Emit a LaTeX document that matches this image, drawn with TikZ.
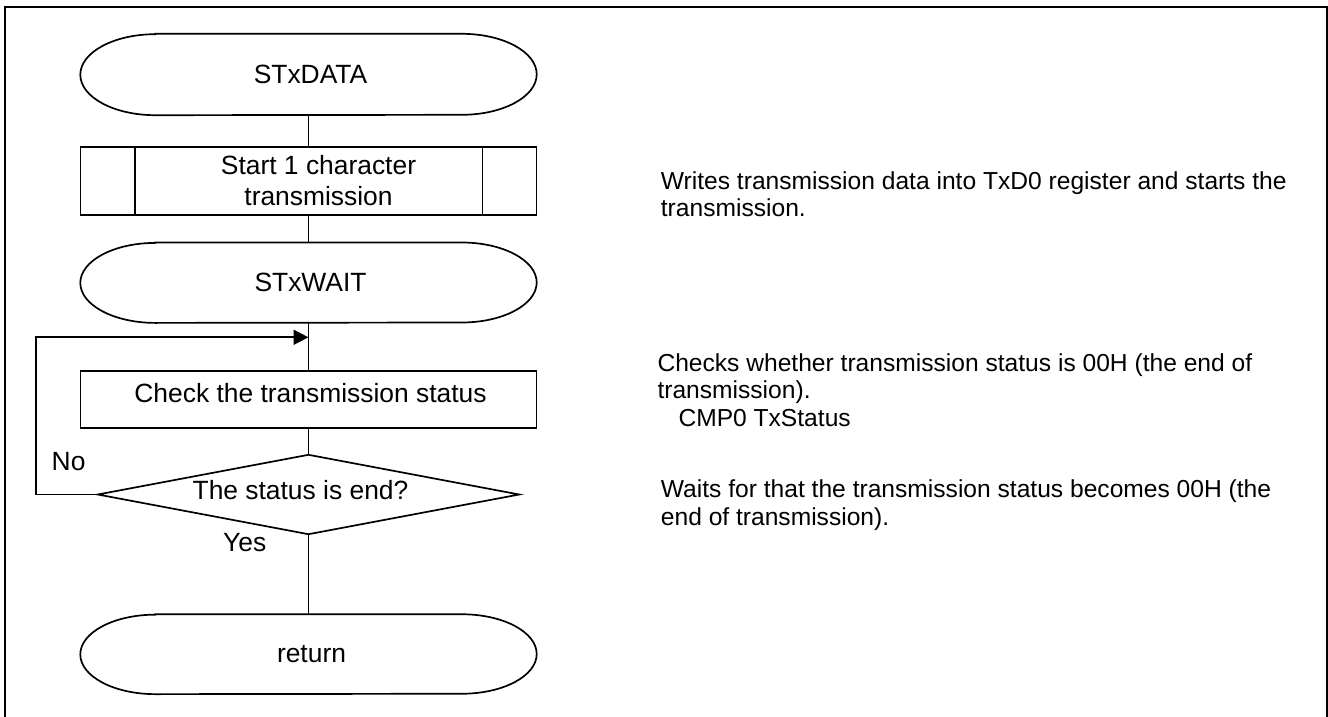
\documentclass[tikz,border=0pt]{standalone}
\usepackage{fontspec}
\setmainfont{Liberation Sans}
\usetikzlibrary{arrows.meta}
\newcommand\fcf{\fontsize{26.4}{31}\selectfont}
\newcommand\fnote{\fontsize{24.6}{27.5}\selectfont}
\newcommand\termpath[2]{%
  \draw[shapeline] ([xshift=75pt]#1.north west) -- ([xshift=-75pt]#1.north east)
    arc[start angle=90,end angle=-90,x radius=75pt,y radius=#2]
    -- ([xshift=75pt]#1.south west)
    arc[start angle=270,end angle=90,x radius=75pt,y radius=#2] -- cycle;}
\tikzset{
  shapeline/.style={line width=1.7pt},
  conn/.style={line width=1.7pt},
  flowtext/.style={font=\fcf, inner sep=0pt},
  termnode/.style={flowtext, minimum width=456pt},
  procbox/.style={flowtext, draw, shapeline, minimum width=456pt},
  notetext/.style={font=\fnote, inner sep=0pt, anchor=base west},
  lbltext/.style={font=\fcf, inner sep=0pt, anchor=base west},
}
\begin{document}
\begin{tikzpicture}[x=1pt,y=-1pt]
\useasboundingbox (0,0) rectangle (1328,717);
\draw[line width=2.3pt] (5,6.7) rectangle (1327,725);

% flowchart nodes
\node[termnode, minimum height=81pt] (t1) at (308.5,74.5) {\hspace*{4pt}STxDATA};
\termpath{t1}{40.5pt}
\node[procbox, minimum height=68.3pt, align=center] (sub) at (308.5,180.9) {\hspace*{20pt}Start 1 character\\\hspace*{20pt}transmission};
\draw[shapeline] ([xshift=55pt]sub.north west) -- ([xshift=55pt]sub.south west);
\draw[shapeline] ([xshift=-55pt]sub.north east) -- ([xshift=-55pt]sub.south east);
\node[termnode, minimum height=80pt] (t2) at (308.5,282.7) {\hspace*{4pt}STxWAIT};
\termpath{t2}{40pt}
\node[procbox, minimum height=56.7pt, text height=18.9pt, text depth=12.6pt] (chk) at (308.5,399.4) {\hspace*{4pt}Check the transmission status};
\node[flowtext, minimum width=421pt, minimum height=79pt, text height=18.9pt, text depth=9.8pt] (dia) at (308.5,494.5) {\hspace*{-16pt}The status is end?};
\draw[shapeline] (dia.north) -- (dia.east) -- (dia.south) -- (dia.west) -- cycle;
\node[termnode, minimum height=79.5pt] (ret) at (308.5,654.2) {\hspace*{6pt}return};
\termpath{ret}{39.75pt}

% connectors
\coordinate (lb) at (35.7,494.5);
\coordinate (lt) at (35.7,337.3);
\coordinate (jn) at (308.5,337.3);
\draw[conn] (t1.south) -- (sub.north);
\draw[conn] (sub.south) -- (t2.north);
\draw[conn] (t2.south) -- (chk.north);
\draw[conn] (chk.south) -- (dia.north);
\draw[conn] (dia.south) -- (ret.north);
\draw[conn, -{Triangle[length=15pt,width=15pt]}] (dia.west) -- (lb) -- (lt) -- (jn);

\node[lbltext] (no) at (51.5,470.5) {No};
\node[lbltext] (yes) at (223,551.7) {Yes};

% notes
\node[notetext] (n1a) at (660.7,189.8) {Writes transmission data into TxD0 register and starts the};
\node[notetext] (n1b) at (660.7,216.5) {transmission.};
\node[notetext] (n2a) at (657.3,371.2) {Checks whether transmission status is 00H (the end of};
\node[notetext] (n2b) at (657.3,398.9) {transmission).};
\node[notetext] (n2c) at (678.3,426.6) {CMP0 TxStatus};
\node[notetext] (n3a) at (660.7,497.5) {Waits for that the transmission status becomes 00H (the};
\node[notetext] (n3b) at (660.7,525.0) {end of transmission).};
\end{tikzpicture}
\end{document}
